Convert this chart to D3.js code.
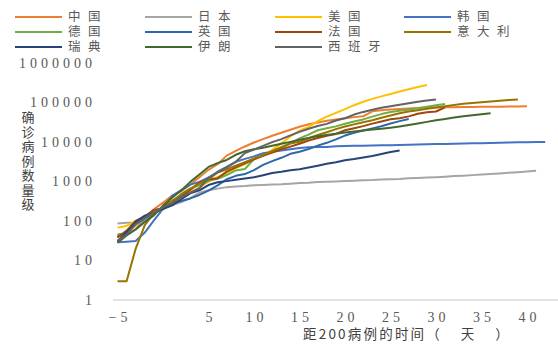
<!DOCTYPE html>
<html>
<head>
<meta charset="UTF-8">
<title>确诊病例数量级</title>
<script src="https://d3js.org/d3.v7.min.js"></script>
<style>
  body { margin: 0; background: #fff; }
  svg { display: block; }
</style>
</head>
<body>
<div id="chart"></div>
<script>
// days counted from the day each country passed 200 cases; every series starts at day -5
var firstDay = -5;
var countries = ["中国", "日本", "美国", "韩国", "德国", "英国", "法国", "意大利", "瑞典", "伊朗", "西班牙"];
var colors = ["#ED7D31", "#A5A5A5", "#FFC000", "#4472C4", "#70AD47", "#2E69A6", "#9E480E", "#997300", "#264478", "#43682B", "#636363"];

var china = [41, 45, 62, 121, 198, 291, 440, 571, 830, 1287, 1975, 2744, 4515, 5974, 7711, 9692, 11791, 14380, 17205, 20438, 24324, 28018, 31161, 34546, 37198, 40171, 42638, 44653, 59804, 63851, 66492, 68500, 70548, 72436, 74185, 74576, 75465, 76288, 76936, 77150, 77658, 78064, 78497, 78824, 79251, 79824];
var japan = [86, 90, 92, 96, 161, 203, 251, 300, 380, 520, 600, 660, 720, 752, 771, 800, 817, 840, 853, 883, 914, 935, 970, 987, 1004, 1030, 1046, 1070, 1085, 1117, 1143, 1163, 1200, 1230, 1254, 1290, 1326, 1370, 1406, 1450, 1495, 1550, 1605, 1670, 1722, 1781, 1860];
var usa = [68, 75, 100, 124, 158, 221, 319, 435, 541, 704, 994, 1301, 1630, 2183, 2770, 3613, 4596, 6344, 9197, 13779, 19367, 24192, 33592, 43781, 54856, 68211, 85435, 104126, 123578, 142735, 164620, 189618, 216721, 245540, 277965];
var korea = [29, 30, 31, 51, 104, 204, 433, 602, 833, 977, 1261, 1766, 2337, 3150, 3736, 4335, 5186, 5621, 6088, 6593, 7041, 7314, 7478, 7513, 7755, 7869, 7979, 8086, 8162, 8236, 8320, 8413, 8565, 8652, 8799, 8897, 8961, 9037, 9137, 9241, 9332, 9478, 9583, 9661, 9786, 9887, 9976, 10062];
var germany = [46, 48, 79, 130, 159, 196, 262, 482, 670, 799, 1040, 1176, 1457, 1908, 2078, 3675, 4585, 5795, 7272, 9257, 12327, 15320, 19848, 22213, 24873, 29056, 32986, 37323, 43938, 50871, 57695, 62095, 66885, 71808, 77872, 84794, 91159];
var uk = [40, 51, 85, 114, 160, 206, 271, 321, 373, 456, 590, 798, 1140, 1391, 1543, 1950, 2626, 3269, 3983, 5018, 5683, 6650, 8077, 9529, 11658, 14543, 17089, 19522, 22141, 25150, 29474, 33718, 38168];
var france = [38, 57, 100, 130, 191, 212, 285, 423, 613, 949, 1126, 1209, 1784, 2281, 2876, 3661, 4469, 5380, 6573, 7652, 9043, 10871, 12612, 14459, 16018, 19856, 22302, 25233, 29155, 32964, 37575, 40174, 44550, 52128, 56989, 59105, 75000];
var italy = [3, 3, 20, 79, 157, 229, 323, 470, 655, 889, 1128, 1694, 2036, 2502, 3089, 3858, 4636, 5883, 7375, 9172, 10149, 12462, 15113, 17660, 21157, 24747, 27980, 31506, 35713, 41035, 47021, 53578, 59138, 63927, 69176, 74386, 80589, 86498, 92472, 97689, 101739, 105792, 110574, 115242, 119827];
var sweden = [30, 52, 94, 137, 161, 203, 248, 355, 500, 599, 814, 961, 1022, 1103, 1190, 1279, 1439, 1639, 1763, 1934, 2046, 2272, 2510, 2806, 3069, 3447, 3700, 4028, 4435, 4947, 5568, 6131];
var iran = [28, 43, 61, 95, 139, 245, 388, 593, 978, 1501, 2336, 2922, 3513, 4747, 5823, 6566, 7161, 8042, 9000, 10075, 11364, 12729, 13938, 14991, 16169, 17361, 18407, 19644, 20610, 21638, 23049, 24811, 27017, 29406, 32332, 35408, 38309, 41495, 44605, 47593, 50468, 53183];
var spain = [32, 45, 84, 120, 165, 222, 282, 401, 525, 674, 1231, 1695, 2277, 3146, 5232, 6391, 7988, 9942, 11826, 14769, 18077, 21571, 25496, 28768, 35136, 39885, 49515, 57786, 65719, 73235, 80110, 87956, 95923, 104118, 112065, 119199];

var xTicks = [-5, 5, 10, 15, 20, 25, 30, 35, 40];
var yTicks = [1, 10, 100, 1000, 10000, 100000, 1000000];
var xTitle = ["距200病例的时间", "（ 天 ）"];
var yTitle = "确诊病例数量级";

var series = [china, japan, usa, korea, germany, uk, france, italy, sweden, iran, spain].map(function (v, i) {
    return { name: countries[i], color: colors[i], values: v };
});

var W = 558, H = 344;
var numFont = "'Liberation Serif', 'DejaVu Serif', serif";
var cjkFont = "'Noto Sans CJK SC', sans-serif";
var svg = d3.select("#chart").append("svg").attr("width", W).attr("height", H);

var x = d3.scaleLinear().domain([-5, 40]).range([117.5, 527]);
var y = d3.scaleLog().domain([1, 1000000]).range([300, 63]);

// x axis line
svg.append("line")
    .attr("x1", x(-5.5)).attr("x2", W)
    .attr("y1", y(1)).attr("y2", y(1))
    .attr("stroke", "#d9d9d9").attr("stroke-width", 1.5);

var xAxis = svg.append("g")
    .attr("transform", "translate(0," + y(1) + ")")
    .call(d3.axisBottom(x).tickValues(xTicks).tickSize(0).tickPadding(12));
xAxis.select(".domain").remove();
xAxis.selectAll("text")
    .style("font-family", numFont).style("font-size", "14px")
    .style("letter-spacing", "4px").attr("fill", "#595959").attr("dx", "2px");

var yAxis = svg.append("g")
    .attr("transform", "translate(96,0)")
    .call(d3.axisLeft(y).tickValues(yTicks).tickFormat(d3.format("d")).tickSize(0).tickPadding(0));
yAxis.select(".domain").remove();
yAxis.selectAll("text")
    .style("font-family", numFont).style("font-size", "14px")
    .style("letter-spacing", "4px").attr("fill", "#595959");

var line = d3.line()
    .x(function (d, i) { return x(firstDay + i); })
    .y(function (d) { return y(d); });

svg.append("g").selectAll("path").data(series).enter().append("path")
    .attr("d", function (s) { return line(s.values); })
    .attr("fill", "none")
    .attr("stroke", function (s) { return s.color; })
    .attr("stroke-width", 2)
    .attr("stroke-linejoin", "round");

// legend, 4 per row
var legend = svg.append("g").selectAll("g").data(series).enter().append("g")
    .attr("transform", function (s, i) {
        var colX = [15, 145, 275, 404][i % 4];
        var rowY = 17 + Math.floor(i / 4) * 15;
        return "translate(" + colX + "," + rowY + ")";
    });
legend.append("line")
    .attr("x1", 0).attr("x2", 47)
    .attr("stroke", function (s) { return s.color; })
    .attr("stroke-width", 2);
legend.append("text")
    .style("font-family", cjkFont)
    .attr("x", 53).attr("dy", "0.35em")
    .attr("font-size", 12.5).attr("fill", "#595959")
    .style("letter-spacing", "7.5px")
    .text(function (s) { return s.name; });

// vertical y title, one text written top to bottom
svg.append("text")
    .style("font-family", cjkFont)
    .style("writing-mode", "vertical-rl")
    .style("letter-spacing", "1.5px")
    .attr("x", 28).attr("y", 111)
    .attr("font-size", 13).attr("fill", "#404040")
    .text(yTitle);

var xt = svg.append("text")
    .style("font-family", cjkFont)
    .attr("x", 303).attr("y", 334).attr("dy", "0.35em")
    .attr("font-size", 13.5).attr("fill", "#404040");
xt.append("tspan").style("letter-spacing", "2.2px").text(xTitle[0]);
xt.append("tspan").style("letter-spacing", "9px").text(xTitle[1]);
</script>
</body>
</html>
